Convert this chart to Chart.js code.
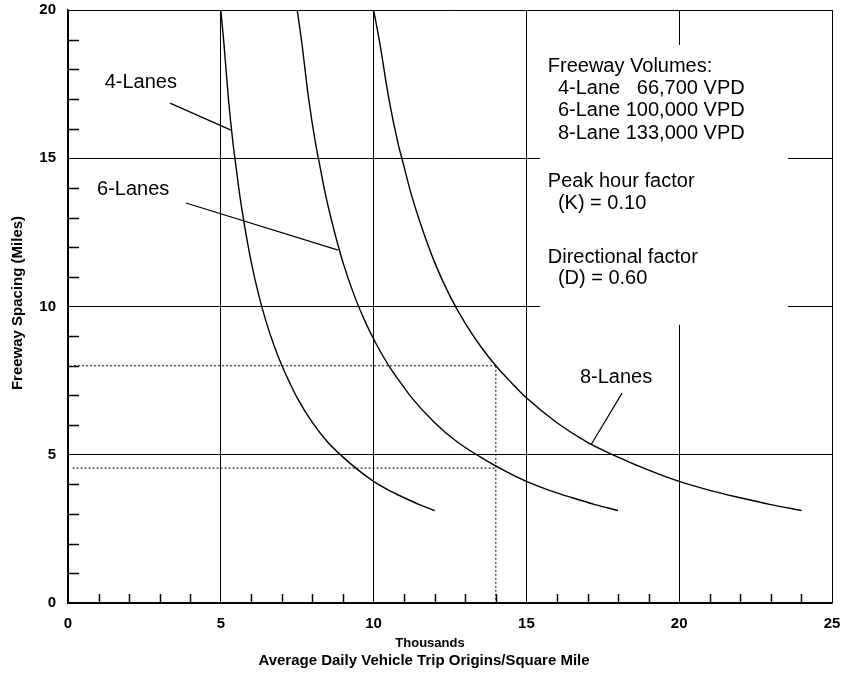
<!DOCTYPE html>
<html>
<head>
<meta charset="utf-8">
<script src="https://cdn.jsdelivr.net/npm/chart.js@4.4.1/dist/chart.umd.min.js"></script>
<style>
  html, body { margin: 0; padding: 0; background: #fff; }
  #wrap { width: 843px; height: 679px; }
</style>
</head>
<body>
<div id="wrap"><canvas id="chart" width="843" height="679"></canvas></div>
<script>
// axis ranges
const xRange = [0, 25];
const yRange = [0, 20];

// curves (thousands of trips / sq mi -> miles)
const lane4X = [5.0, 5.1, 5.25, 5.4, 5.5, 5.6, 5.75, 6.0, 6.25, 6.5, 6.75, 7.0, 7.25, 7.5, 8.0, 8.5, 9.0, 9.5, 10.0, 10.5, 11.0, 11.5, 12.0];
const lane4Y = [20.0, 18.9, 17.0, 15.5, 14.7, 13.9, 12.9, 11.48, 10.35, 9.43, 8.66, 8.0, 7.44, 6.92, 6.08, 5.42, 4.92, 4.48, 4.1, 3.8, 3.55, 3.32, 3.12];
const lane6X = [7.5, 7.65, 7.875, 8.1, 8.25, 8.4, 8.625, 9.0, 9.375, 9.75, 10.125, 10.5, 10.875, 11.25, 12.0, 12.75, 13.5, 14.25, 15.0, 15.75, 16.5, 17.25, 18.0];
const lane6Y = [20.0, 18.9, 17.0, 15.5, 14.7, 13.9, 12.9, 11.48, 10.35, 9.43, 8.66, 8.0, 7.44, 6.92, 6.08, 5.42, 4.92, 4.48, 4.1, 3.8, 3.55, 3.32, 3.12];
const lane8X = [10.0, 10.2, 10.5, 10.8, 11.0, 11.2, 11.5, 12.0, 12.5, 13.0, 13.5, 14.0, 14.5, 15.0, 16.0, 17.0, 18.0, 19.0, 20.0, 21.0, 22.0, 23.0, 24.0];
const lane8Y = [20.0, 18.9, 17.0, 15.5, 14.7, 13.9, 12.9, 11.48, 10.35, 9.43, 8.66, 8.0, 7.44, 6.92, 6.08, 5.42, 4.92, 4.48, 4.1, 3.8, 3.55, 3.32, 3.12];

// dotted reference lines
const dotHighX = [0.2, 14];
const dotHighY = [8, 8];
const dotLowX = [0.15, 14];
const dotLowY = [4.55, 4.55];
const dotVertX = [14, 14];
const dotVertY = [8, 0];

// curve labels and leader lines
const curveLabels = ['4-Lanes', '6-Lanes', '8-Lanes'];
const labelX = [1.2, 0.95, 16.75];
const labelY = [17.57, 13.96, 7.62];
const leaderX = [[3.34, 5.33], [3.86, 8.84], [18.13, 17.11]];
const leaderY = [[16.86, 15.95], [13.49, 11.9], [7.08, 5.33]];

// note box
const noteLines = ['Freeway Volumes:', '4-Lane   66,700 VPD', '6-Lane 100,000 VPD', '8-Lane 133,000 VPD',
  'Peak hour factor', '(K) = 0.10', 'Directional factor', '(D) = 0.60'];
const noteX = [15.7, 16.03, 16.03, 16.03, 15.7, 16.03, 15.7, 16.03];
const noteY = [18.08, 17.34, 16.6, 15.85, 14.23, 13.49, 11.67, 10.93];
const boxX = [15.45, 23.56];
const boxY = [9.38, 18.82];

const minorX = [1, 2, 3, 4, 6, 7, 8, 9, 11, 12, 13, 14, 16, 17, 18, 19, 21, 22, 23, 24];
const minorY = [1, 2, 3, 4, 6, 7, 8, 9, 11, 12, 13, 14, 16, 17, 18, 19];

const FONT = '"Liberation Sans", Arial, sans-serif';

function pts(xs, ys) {
    return xs.map((x, i) => ({ x: x, y: ys[i] }));
}

function curve(xs, ys) {
    return {
        data: pts(xs, ys),
        borderColor: '#000',
        borderWidth: 1.4,
        pointRadius: 0,
        cubicInterpolationMode: 'monotone',
        showLine: true
    };
}

function segment(xs, ys, dash) {
    return {
        data: pts(xs, ys),
        borderColor: '#000',
        borderWidth: dash ? 1 : 1.2,
        borderDash: dash ? [2, 2] : [],
        pointRadius: 0,
        showLine: true
    };
}

const datasets = [
    curve(lane4X, lane4Y),
    curve(lane6X, lane6Y),
    curve(lane8X, lane8Y),
    segment(dotHighX, dotHighY, true),
    segment(dotLowX, dotLowY, true),
    segment(dotVertX, dotVertY, true)
];
leaderX.forEach((xs, i) => datasets.push(segment(xs, leaderY[i], false)));

const annotate = {
    id: 'annotate',
    beforeDatasetsDraw(chart) {
        const { ctx, scales: { x, y } } = chart;
        ctx.save();
        // clear the grid behind the note box
        const l = x.getPixelForValue(boxX[0]);
        const r = x.getPixelForValue(boxX[1]);
        const t = y.getPixelForValue(boxY[1]);
        const b = y.getPixelForValue(boxY[0]);
        ctx.fillStyle = '#fff';
        ctx.fillRect(l, t, r - l, b - t);

        // inward minor ticks
        ctx.strokeStyle = '#000';
        ctx.lineWidth = 1.5;
        const bottom = y.getPixelForValue(0);
        const left = x.getPixelForValue(0);
        ctx.beginPath();
        minorX.forEach(v => {
            const px = Math.round(x.getPixelForValue(v)) + 0.5;
            ctx.moveTo(px, bottom);
            ctx.lineTo(px, bottom - 9);
        });
        minorY.forEach(v => {
            const py = Math.round(y.getPixelForValue(v)) + 0.5;
            ctx.moveTo(left, py);
            ctx.lineTo(left + 11, py);
        });
        ctx.stroke();
        ctx.restore();
    },
    afterDatasetsDraw(chart) {
        const { ctx, scales: { x, y } } = chart;
        ctx.save();
        ctx.fillStyle = '#000';
        ctx.textBaseline = 'middle';
        ctx.textAlign = 'left';
        ctx.font = '20px ' + FONT;
        curveLabels.forEach((s, i) => {
            ctx.fillText(s, x.getPixelForValue(labelX[i]), y.getPixelForValue(labelY[i]));
        });
        noteLines.forEach((s, i) => {
            ctx.fillText(s, x.getPixelForValue(noteX[i]), y.getPixelForValue(noteY[i]));
        });

        // axis titles
        ctx.textAlign = 'center';
        ctx.font = 'bold 13px ' + FONT;
        ctx.fillText('Thousands', 430, 643);
        ctx.font = 'bold 15px ' + FONT;
        ctx.fillText('Average Daily Vehicle Trip Origins/Square Mile', 424, 661);
        ctx.translate(18, 303);
        ctx.rotate(-Math.PI / 2);
        ctx.font = 'bold 15px ' + FONT;
        ctx.fillText('Freeway Spacing (Miles)', 0, 0);
        ctx.restore();
    }
};

new Chart(document.getElementById('chart'), {
    type: 'scatter',
    data: { datasets: datasets },
    options: {
        responsive: false,
        animation: false,
        devicePixelRatio: 1,
        layout: { padding: { top: 10, right: 11, left: 0, bottom: 0 } },
        plugins: {
            legend: { display: false },
            tooltip: { enabled: false }
        },
        scales: {
            x: {
                type: 'linear',
                min: xRange[0],
                max: xRange[1],
                afterFit: s => {
                    s.height = 76;
                    s.paddingLeft = 0;
                    s.paddingRight = 0;
                },
                ticks: {
                    stepSize: 5,
                    color: '#000',
                    padding: 12,
                    font: { family: FONT, size: 15, weight: 'bold' }
                },
                grid: { color: '#000', lineWidth: 1, drawTicks: false },
                border: { color: '#000', width: 1.5 }
            },
            y: {
                type: 'linear',
                min: yRange[0],
                max: yRange[1],
                afterFit: s => {
                    s.width = 68;
                    s.paddingTop = 0;
                    s.paddingBottom = 0;
                },
                ticks: {
                    stepSize: 5,
                    color: '#000',
                    padding: 12,
                    font: { family: FONT, size: 15, weight: 'bold' }
                },
                grid: { color: '#000', lineWidth: 1, drawTicks: false },
                border: { color: '#000', width: 1.5 }
            }
        }
    },
    plugins: [annotate]
});
</script>
</body>
</html>
